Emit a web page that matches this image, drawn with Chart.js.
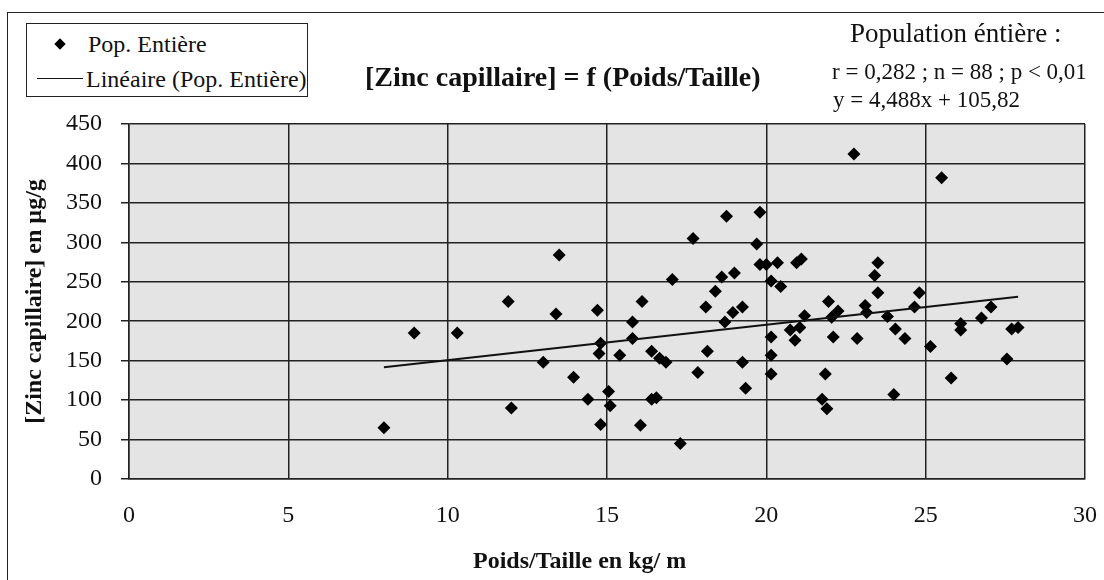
<!DOCTYPE html>
<html lang="fr">
<head>
<meta charset="utf-8">
<title>[Zinc capillaire] = f (Poids/Taille)</title>
<script src="https://cdn.jsdelivr.net/npm/chart.js@4/dist/chart.umd.min.js"></script>
<style>
  html, body { margin: 0; padding: 0; background: #fff; }
  body { width: 1104px; height: 580px; position: relative; overflow: hidden;
         font-family: "Liberation Serif", "Times New Roman", serif; color: #111; }
  #frame { position: absolute; left: 7px; top: 12px; width: 1120px; height: 620px;
           border-top: 1.5px solid #222; border-left: 1.5px solid #222; }
  canvas { position: absolute; left: 0; top: 0; }
  .txt { position: absolute; white-space: nowrap; line-height: 1; transform: translateY(-50%); }
  #legend { position: absolute; left: 26px; top: 23px; width: 282px; height: 74px; box-sizing: border-box;
            border: 1.5px solid #222; background: #fff; font-size: 24px; }
  #legend .diamond { position: absolute; left: 29px; top: 16px; width: 8px; height: 8px; background: #000;
                     transform: rotate(45deg); }
  #legend .lline { position: absolute; left: 10px; top: 54px; width: 46px; border-top: 1.5px solid #111; }
  #title { left: 365px; top: 77px; font-size: 28px; font-weight: bold; }
  #pop { left: 850px; top: 33px; font-size: 27px; }
  #stats { left: 832px; top: 71px; font-size: 23px; }
  #eq { left: 833px; top: 99px; font-size: 23px; }
  #xtitle { left: 473px; top: 560px; font-size: 24px; font-weight: bold; }
</style>
</head>
<body>
<div id="frame"></div>
<canvas id="chart" width="1104" height="580"></canvas>

<div id="legend">
  <span class="diamond"></span><span class="txt" style="left:61px;top:20px">Pop. Entière</span>
  <span class="lline"></span><span class="txt" style="left:59px;top:55px">Linéaire (Pop. Entière)</span>
</div>
<div class="txt" id="title">[Zinc capillaire] = f (Poids/Taille)</div>
<div class="txt" id="pop">Population éntière :</div>
<div class="txt" id="stats">r = 0,282 ; n = 88 ; p &lt; 0,01</div>
<div class="txt" id="eq">y = 4,488x + 105,82</div>
<div class="txt" id="xtitle">Poids/Taille en kg/ m</div>

<script>
// Poids/Taille (kg/m) per subject
const weightHeight = [8.0, 8.95, 10.3, 11.9, 12.0, 13.0, 13.4, 13.5, 13.95, 14.4, 14.7, 14.75, 14.8, 14.8,
  15.05, 15.1, 15.4, 15.8, 15.8, 16.05, 16.1, 16.4, 16.4, 16.55, 16.65, 16.85, 17.05, 17.3, 17.7, 17.85,
  18.1, 18.15, 18.4, 18.6, 18.7, 18.75, 18.95, 19.0, 19.25, 19.25, 19.35, 19.7, 19.8, 19.8, 20.0,
  20.15, 20.15, 20.15, 20.15, 20.35, 20.45, 20.75, 20.9, 20.95, 21.05, 21.1, 21.2, 21.75, 21.85, 21.9,
  21.95, 22.05, 22.1, 22.25, 22.75, 22.85, 23.1, 23.15, 23.4, 23.5, 23.5, 23.8, 24.0, 24.05, 24.35,
  24.65, 24.8, 25.15, 25.5, 25.8, 26.1, 26.1, 26.75, 27.05, 27.55, 27.7, 27.9];
// zinc capillaire (µg/g), same order
const zinc = [65, 185, 185, 225, 90, 148, 209, 284, 129, 101, 214, 159, 172, 69,
  111, 93, 157, 199, 178, 68, 225, 162, 101, 103, 153, 148, 253, 45, 305, 135,
  218, 162, 238, 256, 199, 333, 211, 261, 218, 148, 115, 298, 338, 272, 272,
  251, 180, 157, 133, 274, 244, 189, 176, 274, 192, 279, 207, 101, 133, 89,
  225, 205, 180, 213, 412, 178, 220, 211, 258, 274, 236, 206, 107, 190, 178,
  218, 236, 168, 382, 128, 197, 189, 204, 218, 152, 190, 192];

const xTicks = [0, 5, 10, 15, 20, 25, 30];
const yTicks = [0, 50, 100, 150, 200, 250, 300, 350, 400, 450];

// linear trend given on the chart
const trendSlope = 4.488;
const trendIntercept = 105.82;

const points = weightHeight.map((x, i) => ({ x, y: zinc[i] }));
const xMin = Math.min(...weightHeight);
const xMax = Math.max(...weightHeight);
const trend = [xMin, xMax].map((x) => ({ x, y: trendSlope * x + trendIntercept }));

const serif = '"Liberation Serif", "Times New Roman", serif';

const plotBg = {
  id: 'plotBg',
  beforeDraw(chart) {
    const { ctx, chartArea: a } = chart;
    ctx.save();
    ctx.fillStyle = '#e4e4e4';
    ctx.fillRect(a.left, a.top, a.right - a.left, a.bottom - a.top);
    ctx.restore();
  },
};

const gridStyle = { color: '#222', lineWidth: 1.5 };

new Chart(document.getElementById('chart'), {
  type: 'scatter',
  data: {
    datasets: [
      {
        label: 'Pop. Entière',
        data: points,
        pointStyle: 'rectRot',
        pointRadius: 6.5,
        backgroundColor: '#000',
        borderColor: '#000',
        borderWidth: 0,
        order: 1,
      },
      {
        type: 'line',
        label: 'Linéaire (Pop. Entière)',
        data: trend,
        borderColor: '#111',
        borderWidth: 2,
        pointRadius: 0,
        fill: false,
        order: 0,
      },
    ],
  },
  options: {
    responsive: false,
    animation: false,
    devicePixelRatio: 1,
    layout: { padding: { left: 0, top: 124, right: 19, bottom: 0 } },
    plugins: { legend: { display: false }, tooltip: { enabled: false } },
    scales: {
      x: {
        type: 'linear',
        min: xTicks[0],
        max: xTicks[xTicks.length - 1],
        afterBuildTicks: (s) => { s.ticks = xTicks.map((v) => ({ value: v })); },
        afterFit: (s) => { s.height = 101; s.paddingLeft = 0; s.paddingRight = 0; },
        ticks: { color: '#111', font: { family: serif, size: 24 }, padding: 22, maxRotation: 0 },
        grid: { ...gridStyle, drawTicks: false },
        border: { color: '#222', width: 1.5 },
      },
      y: {
        type: 'linear',
        min: yTicks[0],
        max: yTicks[yTicks.length - 1],
        afterBuildTicks: (s) => { s.ticks = yTicks.map((v) => ({ value: v })); },
        afterFit: (s) => { s.width = 129; s.paddingTop = 0; s.paddingBottom = 0; },
        ticks: { color: '#111', font: { family: serif, size: 24 }, padding: 19 },
        grid: { ...gridStyle, tickLength: 8 },
        border: { color: '#222', width: 1.5 },
        title: {
          display: true,
          text: '[Zinc capillaire] en µg/g',
          color: '#111',
          font: { family: serif, size: 24, weight: 'bold', lineHeight: 1 },
          padding: { top: 23, bottom: 0 },
        },
      },
    },
  },
  plugins: [plotBg],
});
</script>
</body>
</html>
